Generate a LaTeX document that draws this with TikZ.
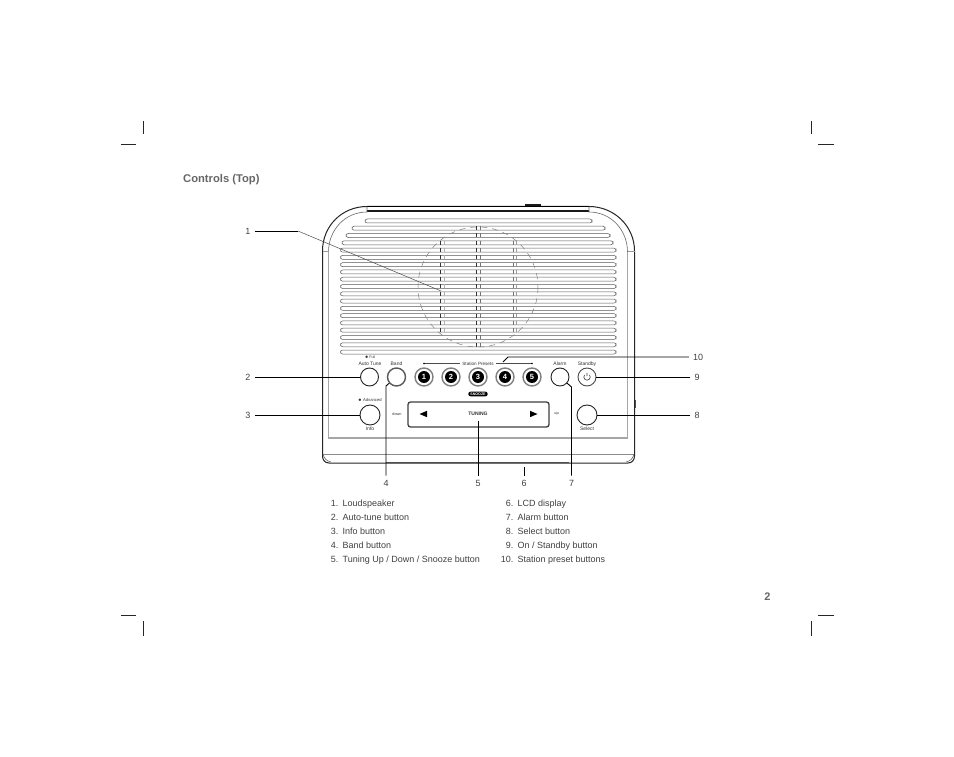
\documentclass[tikz,border=0pt]{standalone}
\usepackage{fontspec}
\setmainfont{Liberation Sans}
\usetikzlibrary{calc}
\definecolor{txtgray}{gray}{0.25}
\definecolor{headgray}{gray}{0.4}
\tikzset{
  crop/.style={line width=0.8pt,black!85},
  num/.style={font=\fontsize{9}{11}\selectfont,text=txtgray,inner sep=4pt},
  leader/.style={line width=0.9pt,black},
  grille/.style={line width=0.5pt,black!65,fill=white,rounded corners=2.2pt},
  tiny/.style={font=\fontsize{5}{6}\selectfont,text=black!80,inner sep=0pt},
  button/.style={circle,draw=black!85,line width=0.9pt,fill=white,minimum size=18pt,inner sep=0pt},
  ring/.style={circle,draw=black!50,line width=1.4pt,fill=white,minimum size=18pt,inner sep=0pt},
  disc/.style={circle,fill=black,text=white,font=\bfseries\fontsize{7.5}{7.5}\selectfont,minimum size=12pt,inner sep=0pt},
  item/.style={font=\fontsize{9}{11}\selectfont,text=txtgray,inner sep=0pt}
}
\begin{document}
\begin{tikzpicture}[x=1pt,y=-1pt]
\useasboundingbox (0,0) rectangle (954,757);

% crop marks
\draw [crop] (143,121)--(143,134);
\draw [crop] (121,144)--(136,144);
\draw [crop] (811,121)--(811,134);
\draw [crop] (818,144)--(834,144);
\draw [crop] (143,621)--(143,636);
\draw [crop] (121,615)--(136,615);
\draw [crop] (811,621)--(811,636);
\draw [crop] (818,615)--(834,615);

\node [anchor=base west,inner sep=0pt,text=headgray,font=\bfseries\fontsize{11.2}{12}\selectfont] (title) at (183,183) {Controls (Top)};
\node [inner sep=0pt,text=headgray,font=\bfseries\fontsize{11}{12}\selectfont] (page) at (767.5,597) {2};

% radio body
\draw [line width=1.8pt,black!90] (525,205)--(541,205);
\draw [line width=1pt,black!85,fill=white] (367,206.5) .. controls (342,206.5) and (322.5,226) .. (322.5,251)
  --(322.5,456) .. controls (322.5,460) and (325,463) .. (329,463)
  --(628,463) .. controls (632,463) and (634.5,460) .. (634.5,456)
  --(634.5,251) .. controls (634.5,226) and (614,206.5) .. (589,206.5)--cycle;
\draw [line width=1.2pt,black] (367,206.5)--(589,206.5);
\draw [line width=1.8pt,black!90] (367,211)--(589,211);
\draw [line width=0.6pt,black!60] (367,206.5)--(367,212) .. controls (345,212) and (328.5,230) .. (328.5,252);
\draw [line width=0.6pt,black!60] (589,206.5)--(589,212) .. controls (611,212) and (627.5,230) .. (627.5,252);
\draw [line width=0.6pt,black!40] (322.5,251)--(328.5,251) (627.5,251)--(634.5,251);
\draw [line width=1.1pt,black!35] (328.5,252)--(328.5,438)--(627.5,438)--(627.5,252);
\draw [line width=0.7pt,black!45] (323,454)--(634,454);
\draw [line width=0.6pt,black!60] (323,454) .. controls (324,458) and (326,461) .. (331,462);
\draw [line width=0.6pt,black!60] (634,454) .. controls (633,458) and (631,461) .. (626,462);
\draw [line width=0.9pt,black!70] (386,462)--(569,462);
\draw [line width=1pt,black!70] (635,400)--(635,408);

% slots, top four get shorter towards the top
\draw [grille] (365,219)--(592,219)--(592,223)--(365,223)--cycle;
\draw [grille] (352,226.2)--(605,226.2)--(605,230.2)--(352,230.2)--cycle;
\draw [grille] (346,233.5)--(610,233.5)--(610,237.5)--(346,237.5)--cycle;
\draw [grille] (342,240.8)--(613,240.8)--(613,244.8)--(342,244.8)--cycle;
\foreach \i in {4,...,18} {
  \draw [grille] ($(340.5,219)+(0,7.28*\i)$)--++(275.5,0)--++(0,4)--++(-275.5,0)--cycle;
}

% speaker over the slots
\draw [line width=0.5pt,black!50,dash pattern=on 6pt off 5pt] (478,287) circle (60);
\foreach \xpos/\ytop/\ybot/\shade in {440.7/240.8/333/80,444.5/240.8/333/30,476.7/226.2/347/80,480.7/226.2/347/55,513/240.8/333/55,516.7/240.8/333/40} {
  \draw [line width=0.7pt,black!\shade,dash pattern=on 4pt off 3.28pt] (\xpos,\ytop)--(\xpos,\ybot);
}

% controls
\node [button] (autotune) at (369.5,377) {};
\node [ring,draw=black!65] (band) at (396.5,377) {};
\node [button,minimum size=20pt] (info) at (370,415) {};
\node [button] (alarm) at (560,377) {};
\node [button,draw=black!70] (standby) at (587,377) {};
\node [button,minimum size=20pt] (select) at (587,415) {};
\foreach \n/\xpos in {1/424,2/451,3/478,4/505,5/532} {
  \node [ring] (ring\n) at (\xpos,377) {};
  \node [disc] (preset\n) at (ring\n) {\n};
}
\draw [line width=0.6pt,black!75] ($(standby)+(-2.45,-2.06)$) arc (220:-40:3.2)
  ($(standby)+(0,-4.2)$)--($(standby)+(0,-0.8)$);

\node [tiny,font=\fontsize{3.6}{4}\selectfont] (fulltxt) at (370,357.5) {$\bullet$ Full};
\node [tiny] (autotxt) at (370,363.5) {Auto Tune};
\node [tiny] (bandtxt) at (396.5,363.5) {Band};
\node [tiny,font=\fontsize{4.6}{5}\selectfont] (presettxt) at (478,363.5) {Station Presets};
\node [tiny] (alarmtxt) at (560,363.5) {Alarm};
\node [tiny] (standbytxt) at (587,364) {Standby};
\node [tiny,font=\fontsize{4.2}{5}\selectfont] (advtxt) at (370,399.5) {$\bullet$ Advanced};
\node [tiny] (infotxt) at (370,429) {Info};
\node [tiny] (selecttxt) at (587,429) {Select};
\node [tiny,font=\fontsize{3.8}{4}\selectfont] (downtxt) at (397,414) {down};
\node [tiny,font=\fontsize{3.8}{4}\selectfont] (uptxt) at (556.5,414) {up};
\coordinate (p_l) at (424,363.5);
\coordinate (p_r) at (532,363.5);
\draw [line width=0.4pt,black!70] (p_l)--(460,363.5) (496,363.5)--(p_r);
\fill [black] (p_l) circle (0.8) (p_r) circle (0.8);

\node [fill=black,text=white,rounded corners=2pt,inner xsep=2pt,inner ysep=1pt,font=\bfseries\fontsize{3.6}{4}\selectfont] (snooze) at (478,394) {SNOOZE};
\node [draw=black!75,line width=1.3pt,rounded corners=2.5pt,minimum width=141pt,minimum height=25pt,inner sep=0pt] (lcd) at (478.5,414.5) {};
\node [tiny,font=\bfseries\fontsize{5}{5}\selectfont] (tuning) at (478,414) {TUNING};
\fill [black] (419.5,414)--(427,410.8)--(427,417.2)--cycle;
\fill [black] (537.5,414)--(530,410.8)--(530,417.2)--cycle;

% numbers and leaders
\node [num] (n_1) at (248,231) {1};
\node [num] (n_2) at (248,377) {2};
\node [num] (n_3) at (248,415) {3};
\node [num] (n_4) at (386,483) {4};
\node [num] (n_5) at (478,483) {5};
\node [num] (n_6) at (524,483) {6};
\node [num] (n_7) at (571.5,483) {7};
\node [num] (n_8) at (697,415) {8};
\node [num] (n_9) at (697,377) {9};
\node [num] (n_10) at (698,357) {10};

\coordinate (c_a) at (298,231);
\coordinate (c_b) at (441,291);
\coordinate (c_d) at (386,386);
\coordinate (c_e) at (478,421);
\coordinate (c_f) at (524,467);
\coordinate (c_g) at (571.5,387);
\coordinate (c_j) at (508,357);
\coordinate (c_k) at (503,362);

\draw [leader] (n_1)--(c_a);
\draw [line width=0.5pt,black!70] (c_a)--(c_b);
\draw [leader] (n_2)--(autotune);
\draw [leader] (n_3)--(info);
\draw [leader] (n_4)--(c_d)--(band);
\draw [leader] (n_5)--(c_e);
\draw [leader] (n_6)--(c_f);
\draw [leader] (n_7)--(c_g)--(alarm);
\draw [leader] (n_8)--(select);
\draw [leader] (n_9)--(standby);
\draw [leader] (n_10)--(c_j)--(c_k);

% key
\foreach \i/\lab/\txt in {0/1./Loudspeaker,1/2./Auto-tune button,2/3./Info button,3/4./Band button,4/5./{Tuning Up / Down / Snooze button}} {
  \node [item,anchor=base east] (keyn\i) at (338.5,506.5+14*\i) {\lab};
  \node [item,anchor=base west] (keyt\i) at (342.5,506.5+14*\i) {\txt};
}
\foreach \i/\lab/\txt in {0/6./LCD display,1/7./Alarm button,2/8./Select button,3/9./{On / Standby button},4/10./Station preset buttons} {
  \node [item,anchor=base east] (keym\i) at (513.5,506.5+14*\i) {\lab};
  \node [item,anchor=base west] (keyu\i) at (517.5,506.5+14*\i) {\txt};
}
\end{tikzpicture}
\end{document}
